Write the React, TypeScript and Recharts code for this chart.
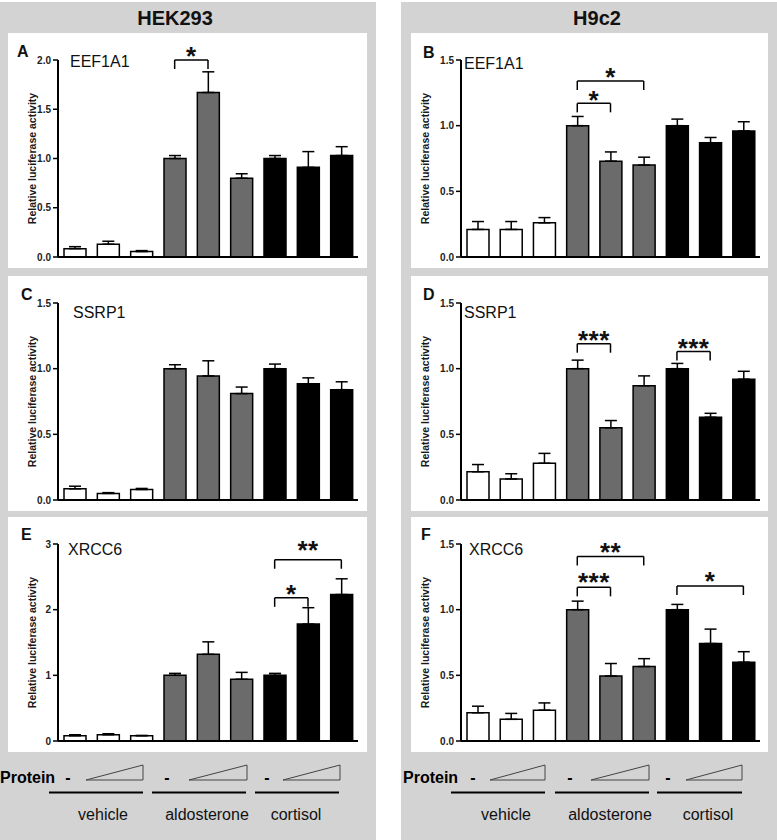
import { BarChart, Bar, XAxis, YAxis, ErrorBar, Cell, ReferenceLine } from "recharts"

const categories = ["veh-0", "veh-1", "veh-2", "ald-0", "ald-1", "ald-2", "cor-0", "cor-1", "cor-2"]
const treatments = ["vehicle", "aldosterone", "cortisol"]
const groupFills = ["#ffffff", "#6b6b6b", "#000000"]

const ticksHalf = [0, 0.5, 1.0, 1.5]
const ticksHekEef = [0, 0.5, 1.0, 1.5, 2.0]
const ticksHekXrcc = [0, 1, 2, 3]

// HEK293
const hekEef1a1 = [0.085, 0.13, 0.055, 1.0, 1.67, 0.8, 1.0, 0.91, 1.03]
const hekEef1a1Err = [0.02, 0.03, 0.01, 0.03, 0.21, 0.045, 0.03, 0.16, 0.09]
const hekSsrp1 = [0.085, 0.05, 0.08, 1.0, 0.945, 0.81, 1.0, 0.885, 0.84]
const hekSsrp1Err = [0.02, 0.006, 0.008, 0.03, 0.115, 0.05, 0.035, 0.045, 0.06]
const hekXrcc6 = [0.08, 0.095, 0.08, 1.0, 1.32, 0.94, 1.0, 1.78, 2.23]
const hekXrcc6Err = [0.015, 0.015, 0.005, 0.03, 0.19, 0.105, 0.03, 0.25, 0.24]

// H9c2
const h9c2Eef1a1 = [0.21, 0.21, 0.26, 1.0, 0.73, 0.7, 1.0, 0.87, 0.96]
const h9c2Eef1a1Err = [0.06, 0.06, 0.04, 0.07, 0.07, 0.06, 0.05, 0.04, 0.07]
const h9c2Ssrp1 = [0.215, 0.16, 0.28, 1.0, 0.55, 0.87, 1.0, 0.63, 0.92]
const h9c2Ssrp1Err = [0.055, 0.04, 0.075, 0.065, 0.055, 0.075, 0.04, 0.03, 0.06]
const h9c2Xrcc6 = [0.215, 0.165, 0.235, 1.0, 0.495, 0.567, 1.0, 0.742, 0.6]
const h9c2Xrcc6Err = [0.05, 0.045, 0.055, 0.065, 0.095, 0.06, 0.04, 0.11, 0.08]

// significance brackets: bar index from/to, height in axis units
const bracketsA = [{ from: 3, to: 4, y: 2.0, stars: "*", lift: 10 }]
const bracketsB = [
  { from: 3, to: 5, y: 1.34, stars: "*", lift: 10 },
  { from: 3, to: 4, y: 1.17, stars: "*", lift: 9 },
]
const bracketsD = [
  { from: 3, to: 4, y: 1.19, stars: "***", lift: 10 },
  { from: 6, to: 7, y: 1.13, stars: "***", lift: 10 },
]
const bracketsE = [
  { from: 6, to: 8, y: 2.76, stars: "**", lift: 16 },
  { from: 6, to: 7, y: 2.18, stars: "*", lift: 10 },
]
const bracketsF = [
  { from: 3, to: 5, y: 1.405, stars: "**", lift: 11 },
  { from: 3, to: 4, y: 1.17, stars: "***", lift: 11 },
  { from: 6, to: 8, y: 1.18, stars: "*", lift: 11 },
]

const FONT = "'Liberation Sans', Arial, sans-serif"
const PANEL_H = 235
const PLOT_H = 197
const STAR_SIZE = 26

type Bracket = { from: number; to: number; y: number; stars: string; lift: number }

function Panel(props: {
  left: number
  top: number
  width: number
  right: number
  values: number[]
  errors: number[]
  ticks: number[]
  decimals: number
  brackets: Bracket[]
  labelX: number
}) {
  const { left, top, width, right, values, errors, ticks, decimals, brackets, labelX } = props
  const max = ticks[ticks.length - 1]
  const data = categories.map((cat, i) => ({ cat, value: values[i], err: [0, errors[i]] }))
  const leg = (9 * max) / PLOT_H
  return (
    <div style={{ position: "absolute", left, top, width, height: PANEL_H, background: "#fff" }}>
      <BarChart width={width} height={PANEL_H} data={data} margin={{ top: 27, right, bottom: 10, left: 0 }}>
        <XAxis
          dataKey="cat"
          tick={false}
          tickLine={false}
          height={1}
          axisLine={{ stroke: "#000", strokeWidth: 2 }}
        />
        <YAxis
          width={50}
          domain={[0, max]}
          ticks={ticks}
          interval={0}
          tickFormatter={(v: number) => v.toFixed(decimals)}
          tick={{ fontSize: 10, fontWeight: "bold", fill: "#222" }}
          tickSize={5}
          tickMargin={2}
          tickLine={{ stroke: "#000", strokeWidth: 1.5 }}
          axisLine={{ stroke: "#000", strokeWidth: 2 }}
          label={{
            value: "Relative luciferase activity",
            angle: -90,
            position: "insideLeft",
            offset: labelX,
            style: { textAnchor: "middle" },
            fontSize: 10.5,
            fontWeight: "bold",
            fill: "#1a1a1a",
          }}
        />
        <Bar dataKey="value" barSize={22} stroke="#000" strokeWidth={1.5} isAnimationActive={false}>
          {data.map((d, i) => (
            <Cell key={d.cat} fill={groupFills[Math.floor(i / 3)]} />
          ))}
          <ErrorBar dataKey="err" width={6} stroke="#000" strokeWidth={1.5} direction="y" isAnimationActive={false} />
        </Bar>
        {brackets.map((b, k) => (
          <ReferenceLine
            key={"h" + k}
            segment={[
              { x: categories[b.from], y: b.y },
              { x: categories[b.to], y: b.y },
            ]}
            stroke="#000"
            strokeWidth={1.5}
            label={{
              value: b.stars,
              position: "top",
              offset: b.lift - STAR_SIZE * 0.58,
              fontSize: STAR_SIZE,
              fontWeight: "bold",
              letterSpacing: 0.5,
              fill: "#111",
            }}
          />
        ))}
        {brackets.flatMap((b, k) =>
          [b.from, b.to].map((idx) => (
            <ReferenceLine
              key={"v" + k + "-" + idx}
              segment={[
                { x: categories[idx], y: b.y },
                { x: categories[idx], y: b.y - leg },
              ]}
              stroke="#000"
              strokeWidth={1.5}
            />
          ))
        )}
      </BarChart>
    </div>
  )
}

export default function App() {
  const leftCol = { left: 8, width: 359, right: 9, labelX: 24 }
  const rightCol = { left: 411, width: 357, right: 8, labelX: 14 }
  return (
    <div
      style={{
        position: "absolute",
        left: 0,
        top: 0,
        width: 777,
        height: 840,
        background: "#fff",
        fontFamily: FONT,
        overflow: "hidden",
      }}
    >
      <div style={{ position: "absolute", left: 0, top: 2, width: 376, height: 838, background: "#d3d3d3" }} />
      <div style={{ position: "absolute", left: 401, top: 2, width: 376, height: 838, background: "#d3d3d3" }} />

      <Panel {...leftCol} top={33} values={hekEef1a1} errors={hekEef1a1Err} ticks={ticksHekEef} decimals={1} brackets={bracketsA} />
      <Panel {...rightCol} top={33} values={h9c2Eef1a1} errors={h9c2Eef1a1Err} ticks={ticksHalf} decimals={1} brackets={bracketsB} />
      <Panel {...leftCol} top={276} values={hekSsrp1} errors={hekSsrp1Err} ticks={ticksHalf} decimals={1} brackets={[]} />
      <Panel {...rightCol} top={276} values={h9c2Ssrp1} errors={h9c2Ssrp1Err} ticks={ticksHalf} decimals={1} brackets={bracketsD} />
      <Panel {...leftCol} top={517} values={hekXrcc6} errors={hekXrcc6Err} ticks={ticksHekXrcc} decimals={0} brackets={bracketsE} />
      <Panel {...rightCol} top={517} values={h9c2Xrcc6} errors={h9c2Xrcc6Err} ticks={ticksHalf} decimals={1} brackets={bracketsF} />

      <svg
        width={777}
        height={840}
        style={{ position: "absolute", left: 0, top: 0, pointerEvents: "none" }}
        fontFamily={FONT}
      >
        <text x={175} y={25} textAnchor="middle" fontSize={20} fontWeight="bold" fill="#111">HEK293</text>
        <text x={597} y={25} textAnchor="middle" fontSize={20} fontWeight="bold" fill="#111">H9c2</text>

        <g fontSize={16} fontWeight="bold" fill="#111">
          <text x={17} y={57}>A</text>
          <text x={423} y={58}>B</text>
          <text x={21} y={300}>C</text>
          <text x={423} y={300}>D</text>
          <text x={21} y={540}>E</text>
          <text x={421} y={540}>F</text>
        </g>
        <g fontSize={16} fill="#111">
          <text x={70} y={67}>EEF1A1</text>
          <text x={464} y={69}>EEF1A1</text>
          <text x={73} y={318}>SSRP1</text>
          <text x={464} y={318}>SSRP1</text>
          <text x={68} y={555}>XRCC6</text>
          <text x={469} y={555}>XRCC6</text>
        </g>

        {/* treatment key */}
        <g fontSize={16} fontWeight="bold" fill="#000">
          <text x={0} y={783}>Protein</text>
          <text x={403} y={783}>Protein</text>
          {[68, 167, 267, 473, 570, 668].map((x) => (
            <text key={x} x={x} y={783} textAnchor="middle">-</text>
          ))}
        </g>
        <g fill="none" stroke="#444" strokeWidth={1}>
          {[[86, 143], [189, 247], [283, 340], [490, 545], [591, 649], [686, 742]].map(([a, b]) => (
            <polygon key={a} points={`${a},780 ${b},765 ${b},780`} />
          ))}
        </g>
        <g stroke="#000" strokeWidth={2}>
          {[[49, 143], [152, 246], [255, 339], [451, 545], [555, 649], [657, 742]].map(([a, b]) => (
            <line key={a} x1={a} x2={b} y1={792.5} y2={792.5} />
          ))}
        </g>
        <g fontSize={16} fill="#111" textAnchor="middle">
          {[103, 207, 296].map((x, i) => (
            <text key={"l" + x} x={x} y={820}>{treatments[i]}</text>
          ))}
          {[506, 610, 708].map((x, i) => (
            <text key={"r" + x} x={x} y={820}>{treatments[i]}</text>
          ))}
        </g>
      </svg>
    </div>
  )
}
